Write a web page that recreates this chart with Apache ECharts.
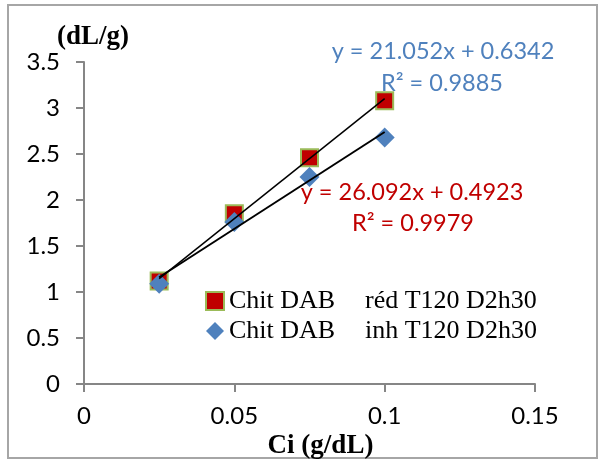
<!DOCTYPE html>
<html><head><meta charset="utf-8">
<script src="https://cdn.jsdelivr.net/npm/echarts@6/dist/echarts.min.js"></script>
<style>html,body{margin:0;padding:0;background:#fff}#c{width:601px;height:460px}</style>
</head><body><div id="c"></div>
<script>
var seriesNames = ['Chit DAB    réd T120 D2h30', 'Chit DAB    inh T120 D2h30'];
var legendLeftParts = ['Chit DAB', 'Chit DAB'];
var legendRightParts = ['réd T120 D2h30', 'inh T120 D2h30'];
var xValues = [0.025, 0.05, 0.075, 0.1];
var redValues = [1.12, 1.85, 2.46, 3.08];
var blueValues = [1.09, 1.76, 2.25, 2.68];
var slopes = [26.092, 21.052];
var intercepts = [0.4923, 0.6342];
var eqTexts = ['y = 26.092x + 0.4923', 'y = 21.052x + 0.6342'];
var r2Texts = ['R² = 0.9979', 'R² = 0.9885'];
var xTicks = [0, 0.05, 0.1, 0.15];
var yTicks = [0, 0.5, 1, 1.5, 2, 2.5, 3, 3.5];

var tickFont = 'Lato';
var eqFont = '23.5px Lato';
var chart = echarts.init(document.getElementById('c'));
function pts(ys){ return xValues.map(function(x,i){ return [x, ys[i]]; }); }
function trend(k){
  var a = xValues[0], b = xValues[xValues.length-1];
  return [[a, slopes[k]*a+intercepts[k]], [b, slopes[k]*b+intercepts[k]]];
}
var serif = '"Liberation Serif","Times New Roman",serif';
chart.setOption({
  animation: false,
  grid: {left: 84, top: 62, right: 66, bottom: 76, containLabel: false, outerBoundsMode: 'none'},
  xAxis: {
    type: 'value', min: xTicks[0], max: xTicks[xTicks.length-1], interval: 0.05,
    name: 'Ci (g/dL)', nameLocation: 'middle', nameGap: 41,
    nameTextStyle: {fontFamily: serif, fontWeight: 'bold', fontSize: 27, color: '#000', padding: [0,0,0,22]},
    axisLine: {lineStyle: {color: '#868686', width: 2}},
    axisTick: {show: true, length: 8, lineStyle: {color: '#868686', width: 2}},
    axisLabel: {fontFamily: tickFont, fontSize: 24, color: '#000', margin: 20},
    splitLine: {show: false}
  },
  yAxis: {
    type: 'value', min: yTicks[0], max: yTicks[yTicks.length-1], interval: 0.5,
    name: '(dL/g)', nameLocation: 'end', nameGap: 20,
    nameTextStyle: {fontFamily: serif, fontWeight: 'bold', fontSize: 27, color: '#000', align: 'center', verticalAlign: 'middle', padding: [0,0,0,18]},
    axisLine: {show: true, lineStyle: {color: '#868686', width: 2}},
    axisTick: {show: true, length: 8, lineStyle: {color: '#868686', width: 2}},
    axisLabel: {fontFamily: tickFont, fontSize: 24, color: '#000', margin: 24},
    splitLine: {show: false}
  },
  legend: {
    orient: 'vertical', left: 205, top: 288, padding: 0, itemGap: 4,
    itemWidth: 18, itemHeight: 18,
    data: [
      {name: seriesNames[0], icon: 'rect'},
      {name: seriesNames[1], icon: 'diamond'}
    ],
    formatter: function(n){
      var i = seriesNames.indexOf(n);
      return '{a|' + legendLeftParts[i] + '}{b|' + legendRightParts[i] + '}';
    },
    textStyle: {
      fontFamily: serif, fontSize: 26, color: '#000',
      rich: {
        a: {fontFamily: serif, fontSize: 26, color: '#000', width: 136},
        b: {fontFamily: serif, fontSize: 26, color: '#000'}
      }
    }
  },
  series: [
    {
      name: seriesNames[0], type: 'scatter', data: pts(redValues),
      symbol: 'rect', symbolSize: 17, z: 2,
      itemStyle: {color: '#c00000', borderColor: '#9bbb59', borderWidth: 2, opacity: 1}
    },
    {
      name: seriesNames[1], type: 'scatter', data: pts(blueValues),
      symbol: 'diamond', symbolSize: 20, z: 3,
      itemStyle: {color: '#4f81bd', opacity: 1}
    },
    {
      name: 'trend0', type: 'line', data: trend(0), symbol: 'none', z: 4,
      lineStyle: {color: '#000', width: 1.5}, silent: true
    },
    {
      name: 'trend1', type: 'line', data: trend(1), symbol: 'none', z: 4,
      lineStyle: {color: '#000', width: 2}, silent: true
    }
  ],
  graphic: [
    {type: 'rect', shape: {x: 8, y: 5, width: 589, height: 453}, style: {fill: 'none', stroke: '#a6a6a6', lineWidth: 2}, z: -1, silent: true},
    {type: 'text', x: 443, y: 51, style: {text: eqTexts[1], fill: '#4f81bd', font: eqFont, textAlign: 'center', textVerticalAlign: 'middle'}},
    {type: 'text', x: 442, y: 83, style: {text: r2Texts[1], fill: '#4f81bd', font: eqFont, textAlign: 'center', textVerticalAlign: 'middle'}},
    {type: 'text', x: 412, y: 192, style: {text: eqTexts[0], fill: '#c00000', font: eqFont, textAlign: 'center', textVerticalAlign: 'middle'}},
    {type: 'text', x: 413, y: 223, style: {text: r2Texts[0], fill: '#c00000', font: eqFont, textAlign: 'center', textVerticalAlign: 'middle'}}
  ]
});
</script></body></html>
